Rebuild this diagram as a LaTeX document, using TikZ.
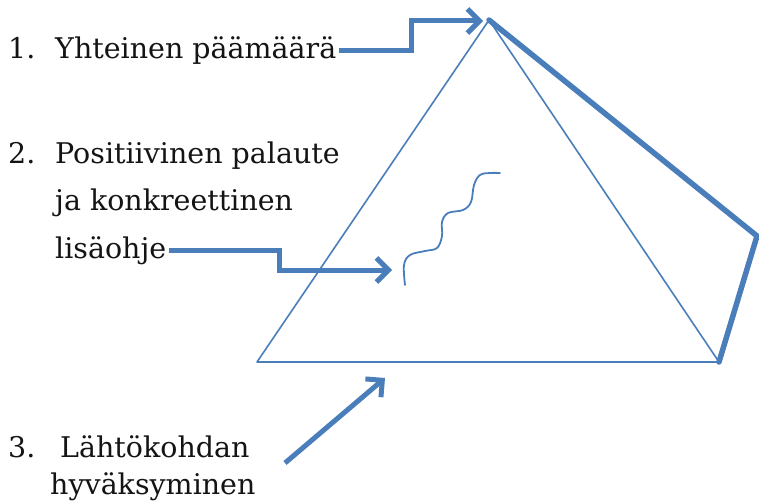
\documentclass[tikz,border=0pt]{standalone}
\usepackage{fontspec}
\setmainfont{DejaVu Serif}
\usetikzlibrary{calc,arrows.meta}
\usetikzlibrary{positioning}
\definecolor{tri-blue}{HTML}{4A7EBB}
\definecolor{tri-text}{HTML}{141414}

\begin{document}
\begin{tikzpicture}[
    x=1pt, y=-1pt,
    font=\fontsize{28.5}{34}\selectfont,
    >={Straight Barb[length=12pt,width=24pt]}
  ]

  % Styles
  \tikzset{
    item/.style={anchor=base west, inner sep=0pt, text=tri-text},
    frame/.style={draw=tri-blue, line width=1.6pt, line join=round},
    rim/.style={draw=tri-blue, line width=5.5pt, line join=round, line cap=round},
    pointer/.style={->, draw=tri-blue, line width=5pt}
  }
  \useasboundingbox (0,0) rectangle (759,503);

  % Corners of the figure
  \coordinate (apex)  at (489,20);
  \coordinate (left)  at (257,362);
  \coordinate (right) at (719,362);
  \coordinate (wing)  at (757,236);

  % Labels
  \node[item] (n1) at (8,58) {1.};
  \node[item] (goal) at (55,58) {Yhteinen päämäärä};
  \node[item] (n2) at (8,163) {2.};
  \node[item] (fbA) at (55,163) {Positiivinen palaute};
  \node[item] (fbB) at ($(fbA.base west)+(0,47)$) {ja konkreettinen};
  \node[item] (fbC) at ($(fbB.base west)+(0,48)$) {lisäohje};
  \node[item] (n3) at (8,457) {3.};
  \node[item] (startA) at (60,457) {Lähtökohdan};
  \node[item] (startB) at (50,494) {hyväksyminen};

  % Triangle and its raised side
  \draw[frame] (apex) -- (left) -- (right) -- cycle;
  \draw[rim] (apex) -- (wing) -- (right);

  % Wavy line inside
  \draw[frame, line width=1.8pt, line cap=round] plot[smooth, tension=0.6] coordinates {
    (405,285) (404,265) (410,255) (425,251) (437,248) (442,236) (442,222)
    (448,213) (463,210) (471,202) (474,185) (480,175) (490,173) (500,173)};

  % Pointers
  \coordinate (k1) at (411,21);
  \coordinate (tip1) at (483,21);
  \coordinate (k2) at (279,270);
  \coordinate (tip2) at (392,270);
  \coordinate (tail3) at (285,463);
  \coordinate (tip3) at (385,378);

  \draw[pointer] ([xshift=3pt]goal.east) -| (k1) -- (tip1);
  \draw[pointer] ([xshift=3pt]fbC.east) -| (k2) -- (tip2);
  \draw[pointer] (tail3) -- (tip3);

\end{tikzpicture}
\end{document}
